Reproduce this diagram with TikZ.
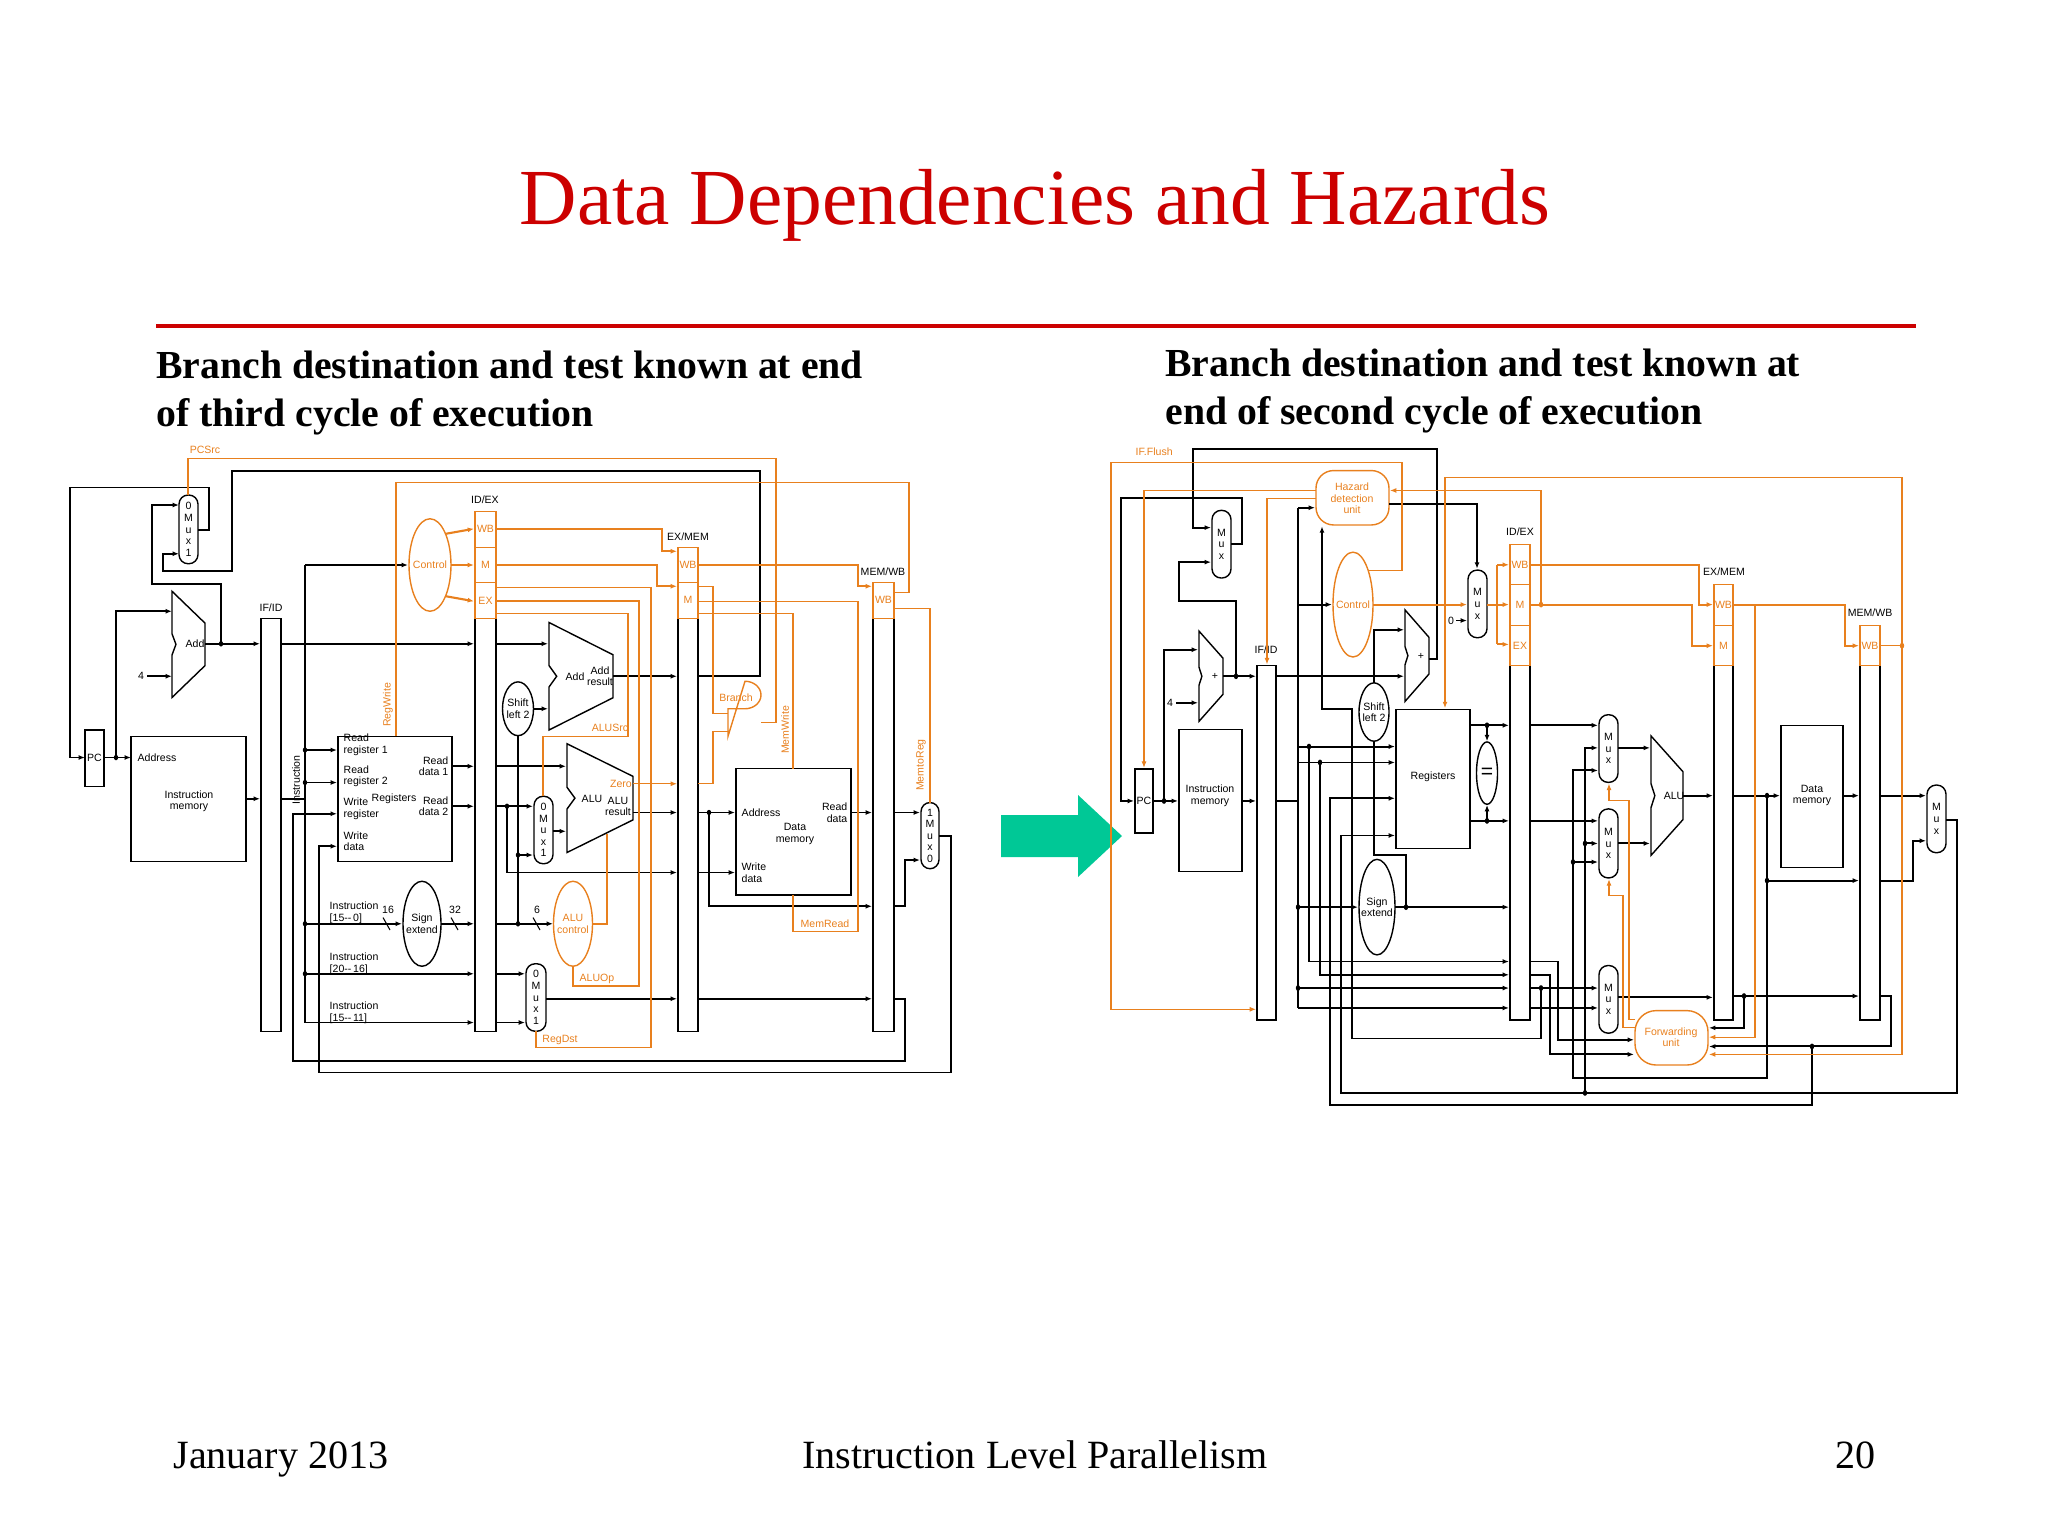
\documentclass[tikz,border=0pt]{standalone}
\usepackage{fontspec}
\setmainfont{Liberation Serif}
\newfontfamily\dsans{Liberation Sans}
\usetikzlibrary{arrows.meta}
\definecolor{ctrlorange}{RGB}{232,128,30}
\definecolor{titlered}{RGB}{204,0,0}
\definecolor{arrowgreen}{RGB}{0,200,150}
\tikzset{
  w/.style={line width=0.55pt,black},
  ow/.style={line width=0.3pt,ctrlorange},
  owt/.style={line width=0.6pt,ctrlorange},
  lbl/.style={font=\dsans\fontsize{3}{3.3}\selectfont,inner sep=0pt},
  olbl/.style={lbl,text=ctrlorange},
  >={Latex[length=1.8pt,width=1.4pt]}
}
% mux: corners, then stacked text
\newcommand\mux[5]{\draw[w,line width=0.4pt,rounded corners=2.6pt] (#1,#2) rectangle (#3,#4);
  \node[lbl,align=center] at ({(#1+#3)/2},{(#2+#4)/2}) {#5};}
% adder / alu outline
\newcommand\aluout[4]{\draw[w,line width=0.4pt] (#1,#2) -- (#3,{#2+0.3*(#4-#2)}) -- (#3,{#4-0.3*(#4-#2)}) -- (#1,#4)
  -- (#1,{(#2+#4)/2+0.1*(#4-#2)}) -- ({#1+0.12*(#3-#1)},{(#2+#4)/2}) -- (#1,{(#2+#4)/2-0.1*(#4-#2)}) -- cycle;}
\newcommand\jdot[2]{\fill (#1,#2) circle (2.2);}
\begin{document}
\begin{tikzpicture}[x=0.01cm,y=-0.01cm]
  \useasboundingbox (0,0) rectangle (2048,1536);
  % Title and rule
  \node[text=titlered,font=\fontsize{22.6}{26}\selectfont] (title) at (1035,205) {Data Dependencies and Hazards};
  \draw[titlered,line width=1.4pt] (156,326) -- (1916,326);
  \node[anchor=west,align=left,font=\bfseries\fontsize{11.3}{13.6}\selectfont] (subl) at (144,393)
    {Branch destination and test known at end\\of third cycle of execution};
  \node[anchor=west,align=left,font=\bfseries\fontsize{11.3}{13.6}\selectfont] (subr) at (1153,391)
    {Branch destination and test known at\\end of second cycle of execution};
  % Footer
  \node[font=\fontsize{11.4}{13}\selectfont,anchor=base west] (date) at (161,1468) {January 2013};
  \node[font=\fontsize{11.4}{13}\selectfont,anchor=base] (foot) at (1035,1468) {Instruction Level Parallelism};
  \node[font=\fontsize{11.4}{13}\selectfont,anchor=base east] (page) at (1888,1468) {20};
  % Green arrow
  \fill[arrowgreen] (1001,815) -- (1078,815) -- (1078,795) -- (1122,836) -- (1078,877) -- (1078,857) -- (1001,857) -- cycle;

  %%%%% LEFT DATAPATH %%%%%
  \begin{scope}[shift={(0,-110)}]\begin{scope}[yscale=1.25]
  % Pipeline registers
  \draw[w,line width=0.4pt] (261,583) rectangle (281,913);
  \draw[w,line width=0.4pt] (475,583) rectangle (496,913);
  \draw[w,line width=0.4pt] (678,583) rectangle (698,913);
  \draw[w,line width=0.4pt] (873,583) rectangle (894,913);
  \draw[ow] (475,497) rectangle (496,583) (475,526) -- (496,526) (475,554) -- (496,554);
  \draw[ow] (678,526) rectangle (698,583) (678,554) -- (698,554);
  \draw[ow] (873,554) rectangle (894,583);
  \foreach \t/\y in {WB/511,M/540,EX/569} \node[olbl] at (485.5,\y) {\t};
  \node[olbl] at (688,540) {WB}; \node[olbl] at (688,568) {M}; \node[olbl] at (883.5,568) {WB};
  \node[lbl] at (271,574) {IF/ID}; \node[lbl] at (485,488) {ID/EX};
  \node[lbl] at (688,517) {EX/MEM}; \node[lbl] at (883,545) {MEM/WB};
  % Blocks
  \mux{179}{484}{198}{539}{0\\M\\u\\x\\1}
  \draw[w,line width=0.4pt] (85,672) rectangle (104,717); \node[lbl] at (94.5,694) {PC};
  \aluout{172}{561}{205}{646} \node[lbl] at (195,603) {Add};
  \draw[w,line width=0.4pt] (131,677) rectangle (246,777);
  \node[lbl,anchor=west] at (137,694) {Address};
  \node[lbl,align=center] at (189,729) {Instruction\\memory};
  \node[lbl,rotate=90] at (296,712) {Instruction};
  \draw[w,line width=0.4pt] (338,677) rectangle (452,777);
  \node[lbl,anchor=west,align=left] at (343,684) {Read\\register 1};
  \node[lbl,anchor=west,align=left] at (343,709) {Read\\register 2};
  \node[lbl,anchor=west,align=left] at (343,735) {Write\\register};
  \node[lbl,anchor=west,align=left] at (343,761) {Write\\data};
  \node[lbl] at (394,727) {Registers};
  \node[lbl,anchor=east,align=right] at (449,701) {Read\\data 1};
  \node[lbl,anchor=east,align=right] at (449,733) {Read\\data 2};
  \draw[ctrlorange,line width=0.4pt] (430,540) ellipse (21 and 37); \node[olbl] at (430,540) {Control};
  \draw[w,line width=0.4pt] (422,827) ellipse (19 and 34); \node[lbl,align=center] at (422,827) {Sign\\extend};
  \draw[w,line width=0.4pt] (518,655) ellipse (15.5 and 21.5); \node[lbl,align=center] at (518,655) {Shift\\left 2};
  \aluout{549}{586}{613}{672} \node[lbl] at (575,629) {Add}; \node[lbl,align=center] at (600,629) {Add\\result};
  \aluout{567}{683}{633}{770} \node[lbl] at (592,727) {ALU}; \node[lbl,align=center] at (618,733) {ALU\\result};
  \node[olbl] at (621,715) {Zero};
  \mux{534}{725}{553}{779}{0\\M\\u\\x\\1}
  \draw[ctrlorange,line width=0.4pt] (573,827) ellipse (19.5 and 34); \node[olbl,align=center] at (573,827) {ALU\\control};
  \mux{526}{859}{546}{913}{0\\M\\u\\x\\1}
  \draw[w,line width=0.4pt] (736,703) rectangle (851,804);
  \node[lbl,anchor=west] at (741,738) {Address};
  \node[lbl,align=center] at (795,755) {Data\\memory};
  \node[lbl,anchor=east,align=right] at (848,738) {Read\\data};
  \node[lbl,anchor=west,align=left] at (741,786) {Write\\data};
  \draw[ctrlorange,line width=0.4pt] (728,655) -- (745,655) arc (90:-90:16 and 11) -- (728,677) -- cycle;
  \mux{921}{730}{939}{783}{1\\M\\u\\x\\0}
  % Black wires
  \draw[w,->] (613,629) -- (677,629);
  \draw[w,->] (698,629) -- (760,629) -- (760,465) -- (232,465) -- (232,545) -- (163,545) -- (163,531) -- (179,531);
  \draw[w,->] (198,512) -- (209,512) -- (209,478) -- (70,478) -- (70,694) -- (85,694);
  \draw[w,->] (104,694) -- (131,694); \jdot{116}{694}
  \draw[w,->] (116,694) -- (116,577) -- (172,577);
  \node[lbl] at (141,629) {4}; \draw[w,->] (147,629) -- (172,629);
  \draw[w,->] (205,603) -- (260,603); \jdot{221}{603}
  \draw[w,->] (221,603) -- (221,555) -- (152,555) -- (152,492) -- (179,492);
  \draw[w,->] (246,727) -- (260,727);
  \draw[w,->] (281,603) -- (474,603);
  \draw[w,->] (496,603) -- (548,603);
  \draw[w] (281,727) -- (305,727) (305,540) -- (305,906);
  \draw[w,->] (305,540) -- (408,540);
  \draw[w,->] (305,688) -- (337,688); \jdot{305}{688}
  \draw[w,->] (305,714) -- (337,714); \jdot{305}{714}
  \draw[w,->] (305,827) -- (402,827); \jdot{305}{827}
  \draw[w,->] (305,867) -- (474,867); \jdot{305}{867}
  \draw[w,->] (305,906) -- (474,906);
  \node[lbl,anchor=west,align=left] at (329,818) {Instruction\\{[15--\,0]}};
  \node[lbl,anchor=west,align=left] at (329,859) {Instruction\\{[20--\,16]}};
  \node[lbl,anchor=west,align=left] at (329,898) {Instruction\\{[15--\,11]}};
  \node[lbl] at (388,816) {16}; \draw[w,line width=0.3pt] (383,822) -- (390,832);
  \node[lbl] at (455,816) {32}; \draw[w,line width=0.3pt] (451,822) -- (458,832);
  \node[lbl] at (537,816) {6}; \draw[w,line width=0.3pt] (533,822) -- (540,832);
  \draw[w,->] (441,827) -- (474,827);
  \draw[w,->] (496,827) -- (553,827); \jdot{518}{827}
  \draw[w] (518,827) -- (518,676);
  \draw[w,->] (518,772) -- (533,772); \jdot{518}{772}
  \draw[w,->] (534,655) -- (548,655);
  \draw[w,->] (452,701) -- (474,701); \draw[w,->] (496,701) -- (566,701);
  \draw[w,->] (452,733) -- (474,733); \draw[w,->] (496,733) -- (533,733); \jdot{507}{733}
  \draw[w,->] (507,733) -- (507,786) -- (677,786);
  \draw[w,->] (553,753) -- (566,753);
  \draw[w,->] (633,738) -- (677,738);
  \draw[w,->] (496,867) -- (525,867); \draw[w,->] (496,906) -- (525,906);
  \draw[w,->] (546,887) -- (677,887); \draw[w,->] (698,887) -- (872,887);
  \draw[w,->] (698,738) -- (735,738); \jdot{709}{738}
  \draw[w,->] (709,738) -- (709,813) -- (872,813);
  \draw[w,->] (698,786) -- (735,786);
  \draw[w,->] (851,738) -- (872,738);
  \draw[w,->] (894,738) -- (920,738);
  \draw[w,->] (894,813) -- (905,813) -- (905,776) -- (920,776);
  \draw[w,->] (894,887) -- (905,887) -- (905,937) -- (293,937) -- (293,739) -- (337,739);
  \draw[w,->] (939,757) -- (951,757) -- (951,946) -- (319,946) -- (319,765) -- (337,765);
  % Control wires
  \draw[owt,->] (446,515) -- (474,511); \draw[owt,->] (451,540) -- (474,540); \draw[owt,->] (446,565) -- (474,569);
  \draw[owt,->] (496,511) -- (662,511) -- (662,529) -- (677,529);
  \draw[owt,->] (496,540) -- (657,540) -- (657,557) -- (677,557);
  \draw[owt,->] (698,540) -- (858,540) -- (858,557) -- (872,557);
  \draw[ow] (496,558) -- (651,558) -- (651,926) -- (536,926) -- (536,913);
  \draw[owt] (496,569) -- (639,569) -- (639,877) -- (573,877) -- (573,861);
  \draw[ow] (496,579) -- (628,579) -- (628,677) -- (543,677) -- (543,725);
  \draw[owt] (593,827) -- (607,827) -- (607,755);
  \draw[ow,->] (633,715) -- (677,715);
  \draw[ow] (698,715) -- (713,715) -- (713,673) -- (728,673);
  \draw[ow] (698,557) -- (713,557) -- (713,659) -- (728,659);
  \draw[ow] (761,666) -- (776,666) -- (776,455) -- (188,455) -- (188,484);
  \draw[ow] (698,569) -- (858,569) -- (858,833) -- (793,833) -- (793,804);
  \draw[ow] (698,579) -- (793,579) -- (793,703);
  \draw[ow] (396,677) -- (396,474) -- (909,474) -- (909,562) -- (894,562);
  \draw[ow] (894,575) -- (930,575) -- (930,730);
  \node[olbl] at (205,448) {PCSrc};
  \node[olbl,rotate=90] at (388,652) {RegWrite};
  \node[olbl] at (736,646) {Branch};
  \node[olbl,rotate=90] at (785,672) {MemWrite};
  \node[olbl,rotate=90] at (921,700) {MemtoReg};
  \node[olbl] at (610,670) {ALUSrc};
  \node[olbl] at (597,871) {ALUOp};
  \node[olbl] at (560,920) {RegDst};
  \node[olbl] at (825,827) {MemRead};
  \end{scope}\end{scope}

  %%%%% RIGHT DATAPATH %%%%%
  \begin{scope}[shift={(0,-143.8)}]\begin{scope}[yscale=1.3269]
  \draw[w,line width=0.4pt] (1257,610) rectangle (1276,877);
  \draw[w,line width=0.4pt] (1510,610) rectangle (1530,877);
  \draw[w,line width=0.4pt] (1714,610) rectangle (1733,877);
  \draw[w,line width=0.4pt] (1860,610) rectangle (1880,877);
  \draw[ow] (1510,519) rectangle (1530,610) (1510,549) -- (1530,549) (1510,580) -- (1530,580);
  \draw[ow] (1714,549) rectangle (1733,610) (1714,580) -- (1733,580);
  \draw[ow] (1860,580) rectangle (1880,610);
  \foreach \t/\y in {WB/534,M/564,EX/595} \node[olbl] at (1520,\y) {\t};
  \node[olbl] at (1723.5,564) {WB}; \node[olbl] at (1723.5,595) {M}; \node[olbl] at (1870,595) {WB};
  \node[lbl] at (1266,598) {IF/ID}; \node[lbl] at (1520,509) {ID/EX};
  \node[lbl] at (1724,539) {EX/MEM}; \node[lbl] at (1870,570) {MEM/WB};
  \mux{1212}{493}{1231}{544}{M\\u\\x}
  \draw[w,line width=0.4pt] (1135,688) rectangle (1153,736); \node[lbl] at (1144,712) {PC};
  \aluout{1199}{584}{1223}{652} \node[lbl] at (1215,618) {+};
  \draw[w,line width=0.4pt] (1179,658) rectangle (1242,765); \node[lbl,align=center] at (1210,708) {Instruction\\memory};
  \draw[ctrlorange,line width=0.4pt,rounded corners=5pt] (1316,463) rectangle (1389,504);
  \node[olbl,align=center] at (1352,484) {Hazard\\detection\\unit};
  \draw[ctrlorange,line width=0.4pt] (1353,564) ellipse (20 and 39.5); \node[olbl] at (1353,564) {Control};
  \mux{1468}{538}{1487}{589}{M\\u\\x}
  \node[lbl] at (1451,576) {0}; \draw[w,->] (1456,576) -- (1467,576);
  \aluout{1405}{568}{1429}{637} \node[lbl] at (1421,603) {+};
  \draw[w,line width=0.4pt] (1374,645) ellipse (15 and 22); \node[lbl,align=center] at (1374,645) {Shift\\left 2};
  \draw[w,line width=0.4pt] (1396,643) rectangle (1470,748); \node[lbl] at (1433,694) {Registers};
  \draw[w,line width=0.4pt] (1487,691) ellipse (10.5 and 23.5); \node[lbl,font=\dsans\fontsize{6}{6}\selectfont] at (1487,691) {=};
  \draw[w,line width=0.4pt] (1377,792) ellipse (18 and 36); \node[lbl,align=center] at (1377,792) {Sign\\extend};
  \mux{1599}{647}{1618}{698}{M\\u\\x}
  \mux{1599}{718}{1618}{770}{M\\u\\x}
  \mux{1599}{836}{1618}{887}{M\\u\\x}
  \aluout{1651}{663}{1683}{753} \node[lbl] at (1674,708) {ALU};
  \draw[w,line width=0.4pt] (1781,655) rectangle (1843,762); \node[lbl,align=center] at (1812,708) {Data\\memory};
  \mux{1927}{700}{1946}{751}{M\\u\\x}
  \draw[ctrlorange,line width=0.4pt,rounded corners=6pt] (1635,870) rectangle (1708,911);
  \node[olbl,align=center] at (1671,890) {Forwarding\\unit};
  % Black wires
  \draw[w,->] (1429,605) -- (1437,605) -- (1437,447) -- (1193,447) -- (1193,506) -- (1211,506);
  \draw[w,->] (1231,518) -- (1242,518) -- (1242,484) -- (1121,484) -- (1121,712) -- (1134,712);
  \draw[w,->] (1153,712) -- (1178,712); \jdot{1164}{712}
  \draw[w,->] (1164,712) -- (1164,598) -- (1198,598);
  \node[lbl] at (1170,638) {4}; \draw[w,->] (1176,638) -- (1198,638);
  \draw[w,->] (1223,618) -- (1256,618); \jdot{1236}{618}
  \draw[w,->] (1236,618) -- (1236,561) -- (1179,561) -- (1179,532) -- (1211,532);
  \draw[w,->] (1242,712) -- (1256,712);
  \draw[w,->] (1276,618) -- (1404,618);
  \draw[w] (1276,712) -- (1298,712) (1298,491) -- (1298,868);
  \draw[w,->] (1298,491) -- (1315,491);
  \draw[w,->] (1298,564) -- (1332,564);
  \draw[w,->] (1298,671) -- (1395,671); \jdot{1309}{671}
  \draw[w,->] (1298,683) -- (1395,683); \jdot{1320}{683}
  \draw[w,->] (1298,792) -- (1358,792); \jdot{1298}{792}
  \draw[w,->] (1395,792) -- (1509,792); \jdot{1406}{792}
  \draw[w] (1406,792) -- (1406,753) -- (1374,753) -- (1374,667);
  \draw[w,->] (1374,623) -- (1374,583) -- (1404,583);
  \draw[w,->] (1309,671) -- (1309,833) -- (1509,833);
  \draw[w,->] (1320,683) -- (1320,843) -- (1509,843);
  \draw[w,->] (1298,853) -- (1509,853); \jdot{1298}{853}
  \draw[w,->] (1298,868) -- (1509,868);
  \draw[w,->] (1389,488) -- (1477,488) -- (1477,537);
  \draw[w,->] (1541,853) -- (1541,891) -- (1352,891) -- (1352,643) -- (1322,643) -- (1322,505);
  \draw[w,->] (1470,655) -- (1509,655); \jdot{1487}{655} \draw[w,->] (1487,655) -- (1487,667);
  \draw[w,->] (1470,727) -- (1509,727); \jdot{1487}{727} \draw[w,->] (1487,727) -- (1487,715);
  \draw[w,->] (1530,655) -- (1598,655);
  \draw[w,->] (1530,727) -- (1598,727);
  \draw[w,->] (1530,833) -- (1558,833) -- (1558,892) -- (1634,892);
  \draw[w,->] (1530,843) -- (1550,843) -- (1550,903) -- (1634,903);
  \draw[w,->] (1530,853) -- (1598,853); \jdot{1541}{853}
  \draw[w,->] (1530,868) -- (1598,868);
  \draw[w,->] (1618,672) -- (1650,672);
  \draw[w,->] (1618,744) -- (1650,744);
  \draw[w,->] (1683,708) -- (1713,708);
  \draw[w,->] (1733,708) -- (1780,708); \jdot{1767}{708}
  \draw[w,->] (1767,708) -- (1767,772) -- (1859,772); \jdot{1767}{772}
  \draw[w,->] (1767,772) -- (1767,921) -- (1573,921) -- (1573,689) -- (1598,689);
  \draw[w,->] (1573,758) -- (1598,758); \jdot{1573}{758}
  \draw[w,->] (1843,708) -- (1859,708);
  \draw[w,->] (1880,708) -- (1926,708);
  \draw[w,->] (1880,772) -- (1913,772) -- (1913,742) -- (1926,742);
  \draw[w,->] (1946,726) -- (1957,726) -- (1957,932) -- (1341,932) -- (1341,738) -- (1395,738);
  \draw[w,->] (1585,932) -- (1585,672) -- (1598,672); \jdot{1585}{932}
  \draw[w,->] (1585,744) -- (1598,744); \jdot{1585}{744}
  \draw[w,->] (1618,860) -- (1713,860);
  \draw[w,->] (1733,859) -- (1859,859); \jdot{1744}{859}
  \draw[w,->] (1744,859) -- (1744,883) -- (1709,883);
  \draw[w,->] (1880,859) -- (1891,859) -- (1891,897) -- (1709,897); \jdot{1812}{897}
  \draw[w,->] (1812,897) -- (1812,941) -- (1330,941) -- (1330,710) -- (1395,710);
  % Control wires
  \node[olbl,anchor=west] at (1135,449) {IF.Flush};
  \draw[ow,->] (1368,538) -- (1402,538) -- (1402,457) -- (1111,457) -- (1111,869) -- (1256,869);
  \draw[ow,->] (1316,478) -- (1144,478) -- (1144,687);
  \draw[ow,->] (1316,484) -- (1267,484) -- (1267,609);
  \draw[ow,->] (1541,564) -- (1541,478) -- (1390,478); \fill[ctrlorange] (1541,564) circle (2.2);
  \draw[owt,->] (1373,564) -- (1467,564);
  \draw[owt] (1487,564) -- (1497,564) (1497,534) -- (1497,594);
  \draw[owt,->] (1497,534) -- (1509,534); \draw[owt,->] (1497,564) -- (1509,564); \draw[owt,->] (1497,594) -- (1509,594);
  \draw[owt,->] (1530,534) -- (1699,534) -- (1699,564) -- (1713,564);
  \draw[owt,->] (1530,564) -- (1692,564) -- (1692,595) -- (1713,595);
  \draw[owt,->] (1733,564) -- (1845,564) -- (1845,595) -- (1859,595);
  \draw[ow,->] (1755,564) -- (1755,890) -- (1709,890);
  \draw[ow] (1880,595) -- (1902,595); \fill[ctrlorange] (1902,595) circle (2.2);
  \draw[ow,->] (1902,468) -- (1902,903) -- (1709,903);
  \draw[ow,->] (1902,468) -- (1445,468) -- (1445,642);
  \draw[ow,->] (1635,877) -- (1629,877) -- (1629,712) -- (1609,712) -- (1609,699);
  \draw[ow,->] (1635,883) -- (1623,883) -- (1623,783) -- (1609,783) -- (1609,771);
  \end{scope}\end{scope}
\end{tikzpicture}
\end{document}
